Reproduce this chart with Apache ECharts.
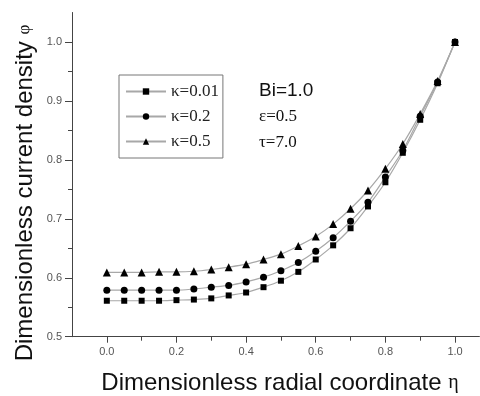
<!DOCTYPE html>
<html><head><meta charset="utf-8">
<script src="https://cdn.jsdelivr.net/npm/echarts@6/dist/echarts.min.js"></script>
<style>html,body{margin:0;padding:0;background:#fff}#c{width:480px;height:396px}</style>
</head><body><div id="c"></div>
<script>
const eta = [0.0,0.05,0.1,0.15,0.2,0.25,0.3,0.35,0.4,0.45,0.5,0.55,0.6,0.65,0.7,0.75,0.8,0.85,0.9,0.95,1.0];
const k001 = [0.561,0.561,0.561,0.561,0.562,0.563,0.565,0.570,0.575,0.584,0.595,0.610,0.631,0.655,0.684,0.721,0.762,0.812,0.868,0.930,1.0];
const k02  = [0.579,0.579,0.579,0.579,0.579,0.581,0.584,0.587,0.593,0.601,0.612,0.626,0.645,0.668,0.696,0.728,0.771,0.816,0.874,0.932,1.0];
const k05  = [0.609,0.609,0.609,0.610,0.610,0.611,0.614,0.618,0.623,0.631,0.640,0.654,0.670,0.691,0.717,0.748,0.785,0.827,0.878,0.934,1.0];
const seriesNames = ['κ=0.01','κ=0.2','κ=0.5'];
const xMajor = [0.0,0.2,0.4,0.6,0.8,1.0];
const xMinor = [0.1,0.3,0.5,0.7,0.9];
const yMajor = [0.5,0.6,0.7,0.8,0.9,1.0];
const yMinor = [0.55,0.65,0.75,0.85,0.95];

const chart = echarts.init(document.getElementById('c'));
const gridPos = {left:72, top:12.5, right:0.6, bottom:59.3};
const axisCol = '#444';
const mk = (vals)=>eta.map((x,i)=>[x,vals[i]]);
const lineStyle = {color:'#a8a8a8', width:1.2};
const symbols = ['rect','circle','triangle'];
const sizes = [6,7,8];
const datas = [k001,k02,k05];

chart.setOption({
  animation:false,
  grid:[Object.assign({},gridPos), Object.assign({},gridPos)],
  xAxis:[{
    type:'value', gridIndex:0, min:-0.1, max:1.07,
    axisLine:{show:true, onZero:false, lineStyle:{color:axisCol, width:1}},
    axisTick:{show:true, customValues:xMajor, length:6, lineStyle:{color:axisCol}},
    axisLabel:{customValues:xMajor, formatter:v=>v.toFixed(1), color:'#555', fontSize:11, fontFamily:'Liberation Sans', margin:10},
    splitLine:{show:false}
  },{
    type:'value', gridIndex:1, min:-0.1, max:1.07,
    axisLine:{show:false, onZero:false},
    axisTick:{show:true, customValues:xMinor, length:4, lineStyle:{color:axisCol}},
    axisLabel:{show:false}, splitLine:{show:false}
  }],
  yAxis:[{
    type:'value', gridIndex:0, min:0.5, max:1.05,
    axisLine:{show:true, onZero:false, lineStyle:{color:axisCol, width:1}},
    axisTick:{show:true, customValues:yMajor, length:7, lineStyle:{color:axisCol}},
    axisLabel:{customValues:yMajor, formatter:v=>v.toFixed(1), color:'#555', fontSize:11, fontFamily:'Liberation Sans', margin:10},
    splitLine:{show:false}
  },{
    type:'value', gridIndex:1, min:0.5, max:1.05,
    axisLine:{show:false, onZero:false},
    axisTick:{show:true, customValues:yMinor, length:4, lineStyle:{color:axisCol}},
    axisLabel:{show:false}, splitLine:{show:false}
  }],
  legend:{
    orient:'vertical', left:119, top:75,
    data:seriesNames,
    itemWidth:40, itemHeight:8, itemGap:8,
    borderColor:'#777', borderWidth:1, borderRadius:0,
    padding:[8,4,8,6],
    textStyle:{fontFamily:'Liberation Serif', fontSize:17, color:'#222', lineHeight:17}
  },
  series: datas.map((d,i)=>({
    name:seriesNames[i], type:'line', xAxisIndex:0, yAxisIndex:0,
    data:mk(d), smooth:0.3, symbol:symbols[i], symbolSize:sizes[i],
    lineStyle:lineStyle, itemStyle:{color:'#000', borderWidth:0}
  })),
  graphic:[
    {type:'text', left:259, top:81, style:{text:'Bi=1.0', font:'19px "Liberation Sans"', fill:'#111'}},
    {type:'text', left:259, top:108, style:{text:'ε=0.5', font:'17px "Liberation Serif"', fill:'#111'}},
    {type:'text', left:259, top:134, style:{text:'τ=7.0', font:'17px "Liberation Serif"', fill:'#111'}},
    {type:'text', x:280, y:383, style:{text:'{a|Dimensionless radial coordinate }{b|η}', align:'center', verticalAlign:'middle',
      rich:{a:{font:'24px "Liberation Sans"', fill:'#111'}, b:{font:'20px "Liberation Serif"', fill:'#111'}}}},
    {type:'text', x:25, y:193, rotation:Math.PI/2, style:{text:'{a|Dimensionless current density }{b|φ}', align:'center', verticalAlign:'middle',
      rich:{a:{font:'24px "Liberation Sans"', fill:'#111'}, b:{font:'17px "Liberation Serif"', fill:'#111'}}}}
  ]
});
</script></body></html>
